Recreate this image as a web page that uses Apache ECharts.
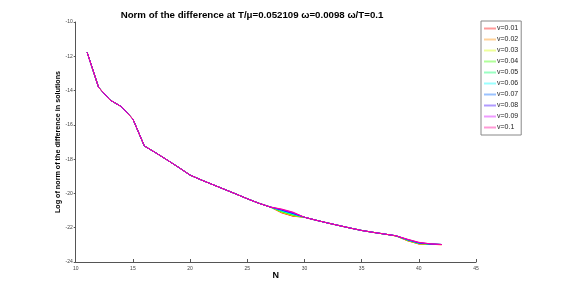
<!DOCTYPE html>
<html><head><meta charset="utf-8">
<script src="https://cdn.jsdelivr.net/npm/echarts@6/dist/echarts.min.js"></script>
<style>html,body{margin:0;padding:0;background:#fff}#c{width:581px;height:294px}</style>
</head><body><div id="c"></div>
<script>
// N values 11..42
const nHead = [11,12,13,14,15,16,17,18,19,20,21,22,23,24,25,26];
const nTail = [27,28,29,30,31,32,33,34,35,36,37,38,39,40,41,42];
// shared values for N = 11..26
const headValues = [-11.77,-13.81,-14.55,-14.94,-15.66,-17.23,-17.63,-18.05,-18.48,-18.93,-19.22,-19.49,-19.76,-20.03,-20.31,-20.57];
// per-series values for N = 27..42
const tail001 = [-20.79,-21.13,-21.33,-21.39,-21.56,-21.72,-21.87,-22.02,-22.16,-22.27,-22.37,-22.48,-22.76,-22.95,-22.97,-22.99];
const tail002 = [-20.79,-21.11,-21.31,-21.39,-21.56,-21.72,-21.87,-22.02,-22.16,-22.27,-22.37,-22.48,-22.75,-22.94,-22.97,-22.99];
const tail003 = [-20.79,-21.09,-21.29,-21.39,-21.56,-21.72,-21.87,-22.02,-22.16,-22.27,-22.37,-22.48,-22.74,-22.93,-22.96,-22.98];
const tail004 = [-20.79,-21.06,-21.26,-21.39,-21.56,-21.72,-21.87,-22.02,-22.16,-22.27,-22.37,-22.47,-22.73,-22.92,-22.96,-22.98];
const tail005 = [-20.79,-21.04,-21.23,-21.39,-21.56,-21.72,-21.87,-22.02,-22.16,-22.27,-22.37,-22.47,-22.72,-22.91,-22.96,-22.98];
const tail006 = [-20.79,-21.01,-21.21,-21.39,-21.56,-21.72,-21.87,-22.02,-22.16,-22.27,-22.37,-22.47,-22.71,-22.90,-22.95,-22.98];
const tail007 = [-20.79,-20.98,-21.18,-21.39,-21.56,-21.72,-21.87,-22.02,-22.16,-22.27,-22.37,-22.47,-22.70,-22.89,-22.95,-22.98];
const tail008 = [-20.79,-20.96,-21.15,-21.39,-21.56,-21.72,-21.87,-22.02,-22.16,-22.27,-22.37,-22.47,-22.69,-22.88,-22.95,-22.98];
const tail009 = [-20.79,-20.93,-21.12,-21.39,-21.56,-21.72,-21.87,-22.02,-22.16,-22.27,-22.37,-22.47,-22.68,-22.86,-22.94,-22.98];
const tail010 = [-20.79,-20.91,-21.09,-21.39,-21.56,-21.72,-21.87,-22.02,-22.16,-22.27,-22.37,-22.47,-22.67,-22.85,-22.94,-22.98];
const seriesNames = ['v=0.01','v=0.02','v=0.03','v=0.04','v=0.05','v=0.06','v=0.07','v=0.08','v=0.09','v=0.1'];
const seriesTails = [tail001,tail002,tail003,tail004,tail005,tail006,tail007,tail008,tail009,tail010];
const seriesColors = ['#ff0000','#ff9900','#ccff00','#33ff00','#00ff66','#00ffff','#0066ff','#3300ff','#cc00ff','#ff0099'];
const legendColors = ['#ff9a9a','#ffd29a','#eeff9a','#b0ff9a','#9affc2','#9affff','#9ac2ff','#b09aff','#ee9aff','#ff9ad6'];

const nAll = nHead.concat(nTail);
const chart = echarts.init(document.getElementById('c'), null, {renderer:'canvas'});
const FONT = '"Liberation Sans", Arial, sans-serif';
chart.setOption({
  animation:false,
  backgroundColor:'#fff',
  title:{text:'Norm of the difference at T/\u03bc=0.052109 \u03c9=0.0098 \u03c9/T=0.1',
    left:247, top:5, textAlign:'center',
    textStyle:{fontFamily:FONT,fontSize:9.7,fontWeight:'bold',color:'#000'}},
  legend:{orient:'vertical', left:481, top:21, padding:[3,3,3,3],
    backgroundColor:'#fff', borderColor:'#888', borderWidth:1,
    itemWidth:12, itemHeight:2, itemGap:2, icon:'rect',
    textStyle:{fontFamily:FONT,fontSize:7,color:'#222',lineHeight:9,padding:[0,0,0,-4]},
    data:seriesNames.map((nm,i)=>({name:nm, itemStyle:{color:legendColors[i]}}))},
  grid:{left:75.7, right:105, top:22, bottom:32},
  xAxis:{type:'value', min:10, max:45, interval:5,
    name:'N', nameLocation:'middle', nameGap:9, nameMoveOverlap:false,
    nameTextStyle:{fontFamily:FONT,fontSize:9,fontWeight:'bold',color:'#000'},
    axisLine:{lineStyle:{color:'#555',width:1}},
    axisTick:{inside:true,length:3,lineStyle:{color:'#555'}},
    axisLabel:{fontFamily:FONT,fontSize:5,color:'#444',margin:4},
    splitLine:{show:false}},
  yAxis:{type:'value', min:-24, max:-10, interval:2,
    name:'Log of norm of the difference in solutions', nameLocation:'middle', nameGap:14, nameMoveOverlap:false,
    nameTextStyle:{fontFamily:FONT,fontSize:7.2,fontWeight:'bold',color:'#000'},
    axisLine:{show:true,lineStyle:{color:'#555',width:1}},
    axisTick:{show:true,inside:false,length:2,lineStyle:{color:'#555'}},
    axisLabel:{fontFamily:FONT,fontSize:5,color:'#444',margin:3},
    splitLine:{show:false}},
  series: seriesNames.map((nm,i)=>({
    name:nm, type:'line', showSymbol:false, symbol:'none',
    color:seriesColors[i],
    lineStyle:{width:1,color:seriesColors[i]},
    data: nAll.map((n,j)=>[n, j<headValues.length ? headValues[j] : seriesTails[i][j-headValues.length]])
  }))
});
</script></body></html>
